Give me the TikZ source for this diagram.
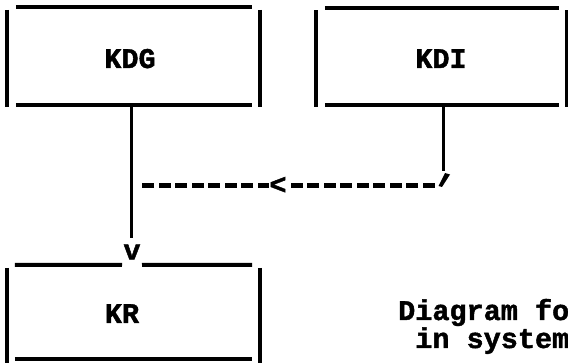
\documentclass[tikz,border=0pt]{standalone}
\usepackage{fontspec}
\newfontfamily\asciifont{Liberation Mono}[BoldFeatures={FakeBold=1.5}]
\begin{document}
\begin{tikzpicture}[x=1pt,y=-1pt,
  hline/.style={line width=4pt},
  vbar/.style={line width=3.5pt},
  conn/.style={line width=3pt},
  dashconn/.style={line width=4.5pt, dash pattern=on 12pt off 4.5pt},
  boxnode/.style={rectangle, inner sep=0pt, minimum width=#1},
  lbl/.style={font=\asciifont\bfseries\fontsize{28.5}{28.5}\selectfont, inner sep=0pt},
  tip/.style={font=\asciifont\bfseries\fontsize{28.5}{28.5}\selectfont, inner sep=0.8pt, fill=white}]
\useasboundingbox (0,0) rectangle (568,363);
\clip (0,0) rectangle (568,363);
% box nodes (frames drawn as separate strokes)
\node[boxnode=253pt, minimum height=98.5pt] (kdg) at (133.5,56.75) {};
\node[boxnode=251pt, minimum height=98pt]   (kdi) at (441.5,57) {};
\node[boxnode=253pt, minimum height=94pt]   (kr)  at (133.5,312) {};
% labels
\node[lbl, anchor=base] (kdgt) at (130,68) {KDG};
\node[lbl, anchor=base] (kdit) at (441,68) {KDI};
\node[lbl, anchor=base] (krt)  at (122,323) {KR};
\node[lbl, anchor=base west] (cap1) at (398,320) {Diagram for};
\node[lbl, anchor=base west] (cap2) at (415.1,348) {in system};
% frames
\foreach \b in {kdg,kdi} {
  \draw[hline] ([xshift=9pt]\b.north west) -- ([xshift=-8pt]\b.north east);
  \draw[hline] ([xshift=9pt,yshift=1pt]\b.south west) -- ([xshift=-8pt,yshift=1pt]\b.south east);
  \draw[vbar] ([yshift=-2.5pt]\b.north west) -- ([yshift=-1pt]\b.south west);
  \draw[vbar] ([yshift=-2.5pt]\b.north east) -- ([yshift=-1pt]\b.south east);
}
% arrow head character v
\node[lbl] (v) at (132,252) {v};
% KR frame, top line broken by the v
\coordinate (gapL) at (122,265);
\coordinate (gapR) at (142,265);
\draw[hline] ([xshift=8pt]kr.north west) -- (gapL);
\draw[hline] (gapR) -- ([xshift=-8pt]kr.north east);
\draw[hline] ([xshift=8pt]kr.south west) -- ([xshift=-8pt]kr.south east);
\draw[vbar] ([yshift=-3pt]kr.north west) -- ([yshift=-6pt]kr.south west);
\draw[vbar] ([yshift=-3pt]kr.north east) -- ([yshift=-6pt]kr.south east);
% connector KDG -> KR
\draw[conn, shorten >=6pt] ([xshift=-1pt]kdg.south -| v) -- ([xshift=-1pt]v.north);
% connector KDI -> dashed -> KDG line
\coordinate (kc) at (443,171);
\coordinate (j2) at (434.5,185.5);
\coordinate (j1) at (142,185.5);
\draw[conn] (kdi.south -| kc) -- (kc);
\fill (445,173) -- (450,174.5) -- (442,187) -- (438.5,186) -- cycle;
\draw[dashconn] (j2) -- (j1);
\node[tip] (lt) at (278,185.5) {<};
\end{tikzpicture}
\end{document}
